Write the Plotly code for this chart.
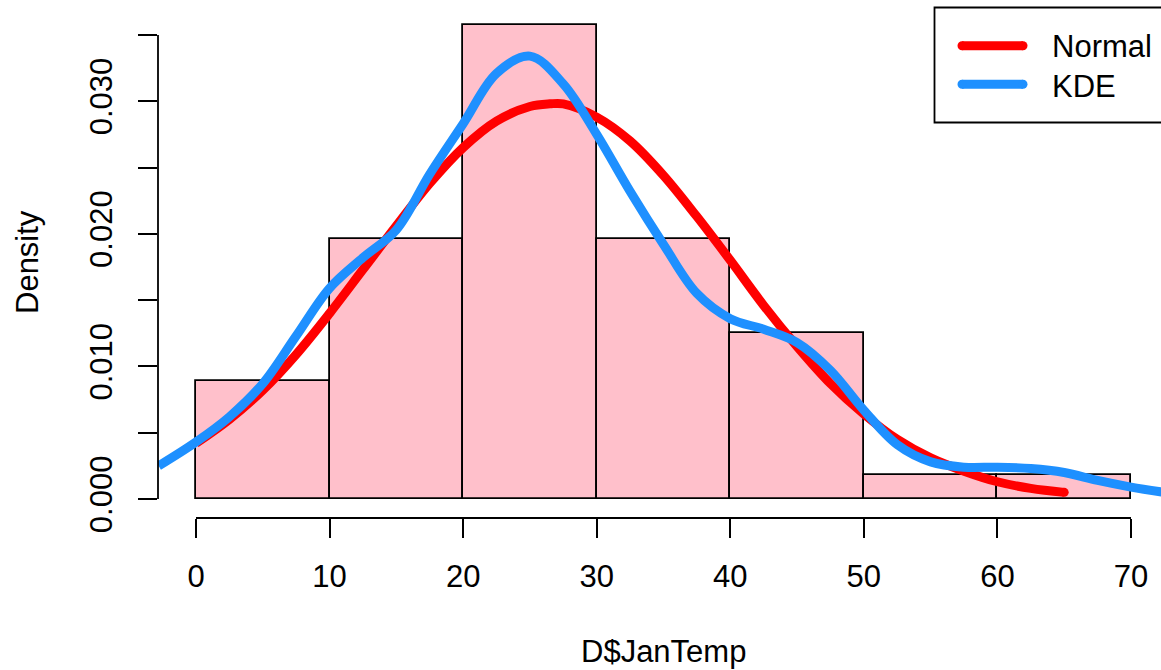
import plotly.graph_objects as go

# ---------------- data ----------------
bin_mids = [5, 15, 25, 35, 45, 55, 65]
bin_density = [0.00893, 0.01964, 0.03571, 0.01964, 0.0125, 0.00179, 0.00179]

normal_x = [0, 2.5, 5, 7.5, 10, 12.5, 15, 17.5, 20, 22.5, 25, 26.5, 27.5, 30, 32.5, 35,
            37.5, 40, 42.5, 45, 47.5, 50, 52.5, 55, 57.5, 60, 62.5, 65]
normal_y = [0.0042, 0.0060, 0.0082, 0.0109, 0.0140, 0.0173, 0.0206, 0.0238, 0.0265, 0.0285,
            0.0296, 0.0298, 0.0298, 0.0288, 0.0270, 0.0244, 0.0213, 0.0180, 0.0146, 0.0115,
            0.0087, 0.0064, 0.0045, 0.0031, 0.0021, 0.0013, 0.0008, 0.0005]

kde_x = [-2.8, 0, 2.5, 5, 7.5, 10, 12.5, 15, 17.5, 20, 22.5, 25, 27.5, 30, 32.5, 35,
         37.5, 40, 42.5, 45, 47.5, 50, 52.5, 55, 57.5, 60, 62.5, 65, 67.5, 70, 72.5]
kde_y = [0.0025, 0.0043, 0.0062, 0.0087, 0.0123, 0.0159, 0.0182, 0.0203, 0.0245, 0.0283,
         0.0321, 0.0334, 0.0313, 0.0275, 0.0232, 0.0192, 0.0155, 0.0136, 0.0128, 0.0118,
         0.0097, 0.0067, 0.0041, 0.0028, 0.0024, 0.0024, 0.0023, 0.0020, 0.0014, 0.0009,
         0.0005]

x_ticks = [0, 10, 20, 30, 40, 50, 60, 70]
y_ticks = [0.0, 0.005, 0.010, 0.015, 0.020, 0.025, 0.030, 0.035]
y_ticktext = ["0.000", "", "0.010", "", "0.020", "", "0.030", ""]

x_title = "D$JanTemp"
y_title = "Density"
legend_labels = ["Normal", "KDE"]

# ---------------- layout geometry ----------------
W, H = 1161, 670
ML, MR, MT, MB = 158, 0, 7, 152
PW = W - ML - MR
PH = H - MT - MB
kx = 13.357          # px per x unit
ky = 13260.0         # px per density unit
xmin = -(196 - ML) / kx
xmax = xmin + PW / kx
ymax = (499 - MT) / ky
ymin = ymax - PH / ky

def px_x(p):
    return (p - ML) / PW

def px_y(p):
    return (H - MB - p) / PH

FONT = "Liberation Sans, Arial, Helvetica, sans-serif"
FS = 31
LW = 9

fig = go.Figure()
fig.add_trace(go.Bar(
    x=bin_mids, y=bin_density, width=10,
    marker=dict(color="#FFC0CB", line=dict(color="black", width=1.8)),
    showlegend=False, hoverinfo="skip"))
fig.add_trace(go.Scatter(
    x=normal_x, y=normal_y, mode="lines",
    line=dict(color="#FF0000", width=LW, shape="spline", smoothing=1.0),
    name=legend_labels[0], showlegend=False))
fig.add_trace(go.Scatter(
    x=[normal_x[-1]], y=[normal_y[-1]], mode="markers",
    marker=dict(color="#FF0000", size=LW), showlegend=False, hoverinfo="skip"))
fig.add_trace(go.Scatter(
    x=kde_x, y=kde_y, mode="lines",
    line=dict(color="#1E90FF", width=LW, shape="spline", smoothing=1.0),
    name=legend_labels[1], showlegend=False))

shapes = []
# axis lines (R style: span first to last tick)
shapes.append(dict(type="line", xref="paper", yref="paper",
                   x0=0, x1=0,
                   y0=(y_ticks[0] - ymin) / (ymax - ymin), y1=(y_ticks[-1] - ymin) / (ymax - ymin),
                   line=dict(color="black", width=1.8)))
shapes.append(dict(type="line", xref="paper", yref="paper",
                   y0=0, y1=0,
                   x0=(x_ticks[0] - xmin) / (xmax - xmin), x1=(x_ticks[-1] - xmin) / (xmax - xmin),
                   line=dict(color="black", width=1.8)))
# legend box
shapes.append(dict(type="rect", xref="paper", yref="paper",
                   x0=px_x(934.5), x1=px_x(1175), y0=px_y(122.5), y1=px_y(7.5),
                   line=dict(color="black", width=1.8), fillcolor="white", layer="above"))
leg_cols = ["#FF0000", "#1E90FF"]
leg_ys = [45.7, 84.3]
for c, yy in zip(leg_cols, leg_ys):
    shapes.append(dict(type="line", xref="paper", yref="paper",
                       x0=px_x(962), x1=px_x(1023), y0=px_y(yy), y1=px_y(yy),
                       line=dict(color=c, width=LW), layer="above"))
    for xc in (962, 1023):
        shapes.append(dict(type="circle", xref="paper", yref="paper",
                           x0=px_x(xc - LW / 2), x1=px_x(xc + LW / 2),
                           y0=px_y(yy + LW / 2), y1=px_y(yy - LW / 2),
                           line=dict(width=0), fillcolor=c, layer="above"))

annotations = []
for lab, yy in zip(legend_labels, [46, 86]):
    annotations.append(dict(text=lab, xref="paper", yref="paper", x=px_x(1050), y=px_y(yy),
                            xanchor="left", yanchor="middle", showarrow=False,
                            font=dict(family=FONT, size=FS, color="black")))
annotations.append(dict(text=x_title, xref="paper", yref="paper", x=px_x(663), y=px_y(651),
                        xanchor="center", yanchor="middle", showarrow=False,
                        font=dict(family=FONT, size=FS, color="black")))
annotations.append(dict(text=y_title, xref="paper", yref="paper", x=px_x(27), y=px_y(262),
                        xanchor="center", yanchor="middle", showarrow=False, textangle=-90,
                        font=dict(family=FONT, size=FS, color="black")))

fig.update_layout(
    width=W, height=H,
    margin=dict(l=ML, r=MR, t=MT, b=MB, pad=0),
    paper_bgcolor="white", plot_bgcolor="white",
    showlegend=False,
    bargap=0,
    font=dict(family=FONT, size=FS, color="black"),
    xaxis=dict(range=[xmin, xmax], showgrid=False, zeroline=False, showline=False,
               tickmode="array", tickvals=x_ticks, ticktext=[str(v) for v in x_ticks],
               ticks="outside", ticklen=19, tickwidth=1.8, tickcolor="black",
               ticklabelstandoff=12,
               tickfont=dict(family=FONT, size=FS, color="black")),
    yaxis=dict(range=[ymin, ymax], showgrid=False, zeroline=False, showline=False,
               tickmode="array", tickvals=y_ticks, ticktext=y_ticktext,
               ticks="outside", ticklen=19, tickwidth=1.8, tickcolor="black",
               tickangle=-90, ticklabelstandoff=14,
               tickfont=dict(family=FONT, size=FS, color="black")),
    shapes=shapes, annotations=annotations,
)

fig.write_html("out.html")
